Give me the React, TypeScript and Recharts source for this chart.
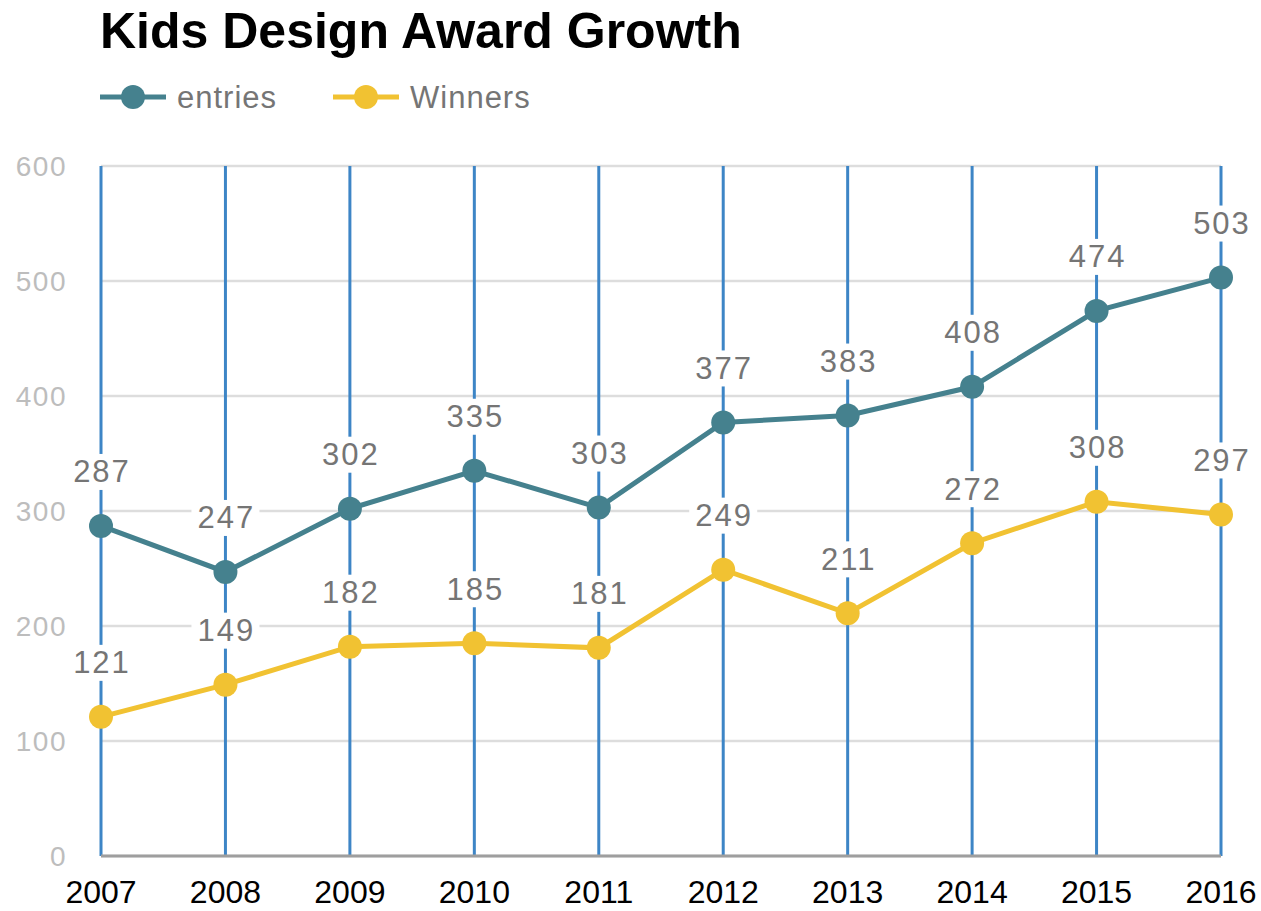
import React from "react";
import {
  LineChart,
  Line,
  XAxis,
  YAxis,
  CartesianGrid,
  Legend,
  LabelList,
} from "recharts";

const years = ["2007", "2008", "2009", "2010", "2011", "2012", "2013", "2014", "2015", "2016"];
const entries = [287, 247, 302, 335, 303, 377, 383, 408, 474, 503];
const winners = [121, 149, 182, 185, 181, 249, 211, 272, 308, 297];
const yTicks = [0, 100, 200, 300, 400, 500, 600];

const data = years.map((y, i) => ({ year: y, entries: entries[i], Winners: winners[i] }));

const FONT = "'Liberation Sans', Arial, sans-serif";
const TEAL = "#45818e";
const YELLOW = "#f1c232";

const ValueLabel = (props: any) => {
  const { x, y, value } = props;
  if (x == null || y == null) return null;
  const cy = y - 54;
  return (
    <g>
      <rect x={x - 34} y={cy - 18} width={68} height={36} fill="#ffffff" />
      <text
        x={x + 1}
        y={cy}
        textAnchor="middle"
        dominantBaseline="central"
        fontFamily={FONT}
        fontSize={31}
        letterSpacing={2}
        fill="#757575"
      >
        {value}
      </text>
    </g>
  );
};

const LegendContent = () => {
  const items = [
    { name: "entries", color: TEAL, x: 100 },
    { name: "Winners", color: YELLOW, x: 333 },
  ];
  return (
    <svg width={600} height={40} style={{ display: "block" }}>
      {items.map((it) => (
        <g key={it.name}>
          <line x1={it.x} x2={it.x + 66} y1={20} y2={20} stroke={it.color} strokeWidth={5} />
          <circle cx={it.x + 33} cy={20} r={12} fill={it.color} />
          <text
            x={it.x + 77}
            y={20}
            dominantBaseline="central"
            fontFamily={FONT}
            fontSize={31}
            letterSpacing={1}
            fill="#757575"
          >
            {it.name}
          </text>
        </g>
      ))}
    </svg>
  );
};

export default function App() {
  return (
    <div style={{ position: "absolute", left: 0, top: 0, width: 1261, height: 911, background: "#fff" }}>
      <div
        style={{
          position: "absolute",
          left: 100,
          top: 6,
          fontFamily: FONT,
          fontWeight: "bold",
          fontSize: 50,
          lineHeight: "50px",
          color: "#000",
          whiteSpace: "nowrap",
        }}
      >
        Kids Design Award Growth
      </div>
      <LineChart
        width={1261}
        height={911}
        data={data}
        margin={{ top: 126, right: 40, bottom: 5, left: 21 }}
      >
        <CartesianGrid horizontal={true} vertical={false} stroke="#dddddd" strokeWidth={2.5} />
        <CartesianGrid horizontal={false} vertical={true} stroke="#3d85c6" strokeWidth={3} />
        <XAxis
          dataKey="year"
          padding={{ left: 0, right: 0 }}
          height={50}
          axisLine={{ stroke: "#9e9e9e", strokeWidth: 3 }}
          tickLine={false}
          tickSize={0}
          tickMargin={24}
          tick={{ fontFamily: FONT, fontSize: 32, fill: "#000" }}
        />
        <YAxis
          domain={[0, 600]}
          ticks={yTicks}
          width={80}
          axisLine={false}
          tickLine={false}
          tickSize={0}
          tickMargin={34}
          tick={{ fontFamily: FONT, fontSize: 28, fill: "#bdbdbd", letterSpacing: 1.5 }}
        />
        <Legend
          verticalAlign="top"
          height={40}
          content={<LegendContent />}
          wrapperStyle={{ position: "absolute", left: 0, top: 77, width: 600 }}
        />
        <Line
          dataKey="entries"
          stroke={TEAL}
          strokeWidth={5}
          dot={{ r: 12, fill: TEAL, stroke: "none" }}
          activeDot={false}
          isAnimationActive={false}
        >
          <LabelList dataKey="entries" content={<ValueLabel />} />
        </Line>
        <Line
          dataKey="Winners"
          stroke={YELLOW}
          strokeWidth={5}
          dot={{ r: 12, fill: YELLOW, stroke: "none" }}
          activeDot={false}
          isAnimationActive={false}
        >
          <LabelList dataKey="Winners" content={<ValueLabel />} />
        </Line>
      </LineChart>
    </div>
  );
}
